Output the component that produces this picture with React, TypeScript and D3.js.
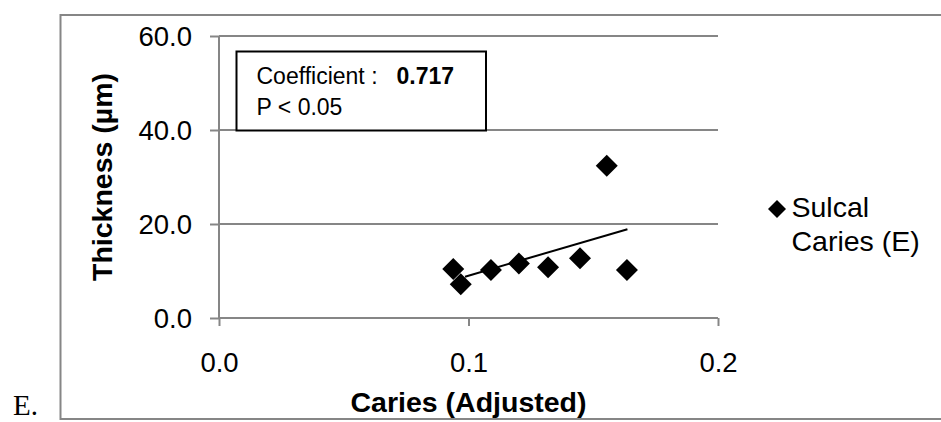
import * as d3 from "d3"
import React, { useRef, useEffect } from "react"

// values
const cariesX = [0.0939, 0.0969, 0.109, 0.1202, 0.1319, 0.1447, 0.1554, 0.1635]
const thicknessY = [10.4, 7.2, 10.2, 11.6, 10.8, 12.7, 32.4, 10.2]
const trendX = [0.0986, 0.1637]
const xTicks = [0, 0.1, 0.2]
const yTicks = [0, 20, 40, 60]
const seriesName = ["Sulcal", "Caries (E)"]
const boxLines = ["Coefficient :", "0.717", "P < 0.05"]

const FONT = "'Liberation Sans', Arial, sans-serif"
const GRAY = "#868686"

function App() {
  const svgRef = useRef<SVGSVGElement>(null)

  useEffect(() => {
    const svg = d3.select(svgRef.current)
    svg.selectAll("*").remove()

    const width = 941,
      height = 422

    const x = d3.scaleLinear().domain([0, 0.2]).range([219, 718])
    const y = d3.scaleLinear().domain([0, 60]).range([318, 36])

    // outer frame
    svg
      .append("rect")
      .attr("x", 60.5)
      .attr("y", 15)
      .attr("width", 920)
      .attr("height", 404)
      .attr("fill", "white")
      .attr("stroke", GRAY)
      .attr("stroke-width", 2)

    // gridlines
    svg
      .append("g")
      .selectAll("line")
      .data(yTicks.filter((d) => d > 0))
      .enter()
      .append("line")
      .attr("x1", x(0))
      .attr("x2", x(0.2))
      .attr("y1", (d) => y(d))
      .attr("y2", (d) => y(d))
      .attr("stroke", GRAY)
      .attr("stroke-width", 2)

    // y axis
    const yAxis = d3
      .axisLeft(y)
      .tickValues(yTicks)
      .tickSize(9)
      .tickPadding(18)
      .tickFormat(d3.format(".1f"))
    const gy = svg.append("g").attr("transform", `translate(${x(0)},0)`).call(yAxis)
    gy.select(".domain").attr("stroke", GRAY).attr("stroke-width", 2).attr("d", `M0,${y(60)}V${y(0)}`)
    gy.selectAll(".tick line").attr("stroke", GRAY).attr("stroke-width", 2)
    gy.selectAll(".tick text")
      .attr("font-family", FONT)
      .attr("font-size", 27.5)
      .attr("fill", "black")
      .attr("dy", "0.36em")

    // x axis
    const xAxis = d3
      .axisBottom(x)
      .tickValues(xTicks)
      .tickSize(8)
      .tickPadding(28)
      .tickFormat(d3.format(".1f"))
    const gx = svg.append("g").attr("transform", `translate(0,${y(0)})`).call(xAxis)
    gx.select(".domain").attr("stroke", GRAY).attr("stroke-width", 2).attr("d", `M${x(0)},0H${x(0.2)}`)
    gx.selectAll(".tick line").attr("stroke", GRAY).attr("stroke-width", 2)
    gx.selectAll(".tick text")
      .attr("font-family", FONT)
      .attr("font-size", 27.5)
      .attr("fill", "black")
      .attr("dy", 0)
      .attr("y", 54)

    // axis titles
    svg
      .append("text")
      .attr("x", (x(0) + x(0.2)) / 2)
      .attr("y", 411.5)
      .attr("text-anchor", "middle")
      .attr("font-family", FONT)
      .attr("font-weight", "bold")
      .attr("font-size", 28.5)
      .text("Caries (Adjusted)")

    svg
      .append("text")
      .attr("transform", `translate(111.5,${(y(0) + y(60)) / 2}) rotate(-90)`)
      .attr("text-anchor", "middle")
      .attr("font-family", FONT)
      .attr("font-weight", "bold")
      .attr("font-size", 28.5)
      .text("Thickness (µm)")

    // linear trendline from the points
    const mx = d3.mean(cariesX),
      my = d3.mean(thicknessY)
    const sxy = d3.sum(cariesX, (v, i) => (v - mx) * (thicknessY[i] - my))
    const sxx = d3.sum(cariesX, (v) => (v - mx) * (v - mx))
    const slope = sxy / sxx
    const icpt = my - slope * mx
    svg
      .append("path")
      .attr(
        "d",
        d3
          .line<number>()
          .x((d) => x(d))
          .y((d) => y(icpt + slope * d))(trendX)
      )
      .attr("stroke", "black")
      .attr("stroke-width", 2)
      .attr("fill", "none")

    // diamonds
    const diamond = (r: number) => `M0,${-r}L${r},0L0,${r}L${-r},0Z`
    svg
      .append("g")
      .selectAll("path")
      .data(cariesX)
      .enter()
      .append("path")
      .attr("d", diamond(11))
      .attr("transform", (d, i) => `translate(${x(d)},${y(thicknessY[i])})`)
      .attr("fill", "black")

    // coefficient box
    svg
      .append("rect")
      .attr("x", 236.5)
      .attr("y", 51.5)
      .attr("width", 249.5)
      .attr("height", 79)
      .attr("fill", "white")
      .attr("stroke", "black")
      .attr("stroke-width", 2)
    svg
      .append("text")
      .attr("x", 256.5)
      .attr("y", 83.5)
      .attr("font-family", FONT)
      .attr("font-size", 23)
      .text(boxLines[0])
    svg
      .append("text")
      .attr("x", 396.5)
      .attr("y", 83.5)
      .attr("font-family", FONT)
      .attr("font-weight", "bold")
      .attr("font-size", 23)
      .text(boxLines[1])
    svg
      .append("text")
      .attr("x", 256.5)
      .attr("y", 115)
      .attr("font-family", FONT)
      .attr("font-size", 23)
      .text(boxLines[2])

    // legend
    svg
      .append("path")
      .attr("d", diamond(9))
      .attr("transform", "translate(777,209)")
      .attr("fill", "black")
    svg
      .append("text")
      .attr("font-family", FONT)
      .attr("font-size", 28.5)
      .selectAll("tspan")
      .data(seriesName)
      .enter()
      .append("tspan")
      .attr("x", 791.5)
      .attr("y", (d, i) => 217 + i * 34)
      .text((d) => d)

    // panel letter
    svg
      .append("text")
      .attr("x", 13)
      .attr("y", 415)
      .attr("font-family", "'Liberation Serif', 'Times New Roman', serif")
      .attr("font-size", 29)
      .text("E.")

    svg.attr("width", width).attr("height", height)
  }, [])

  return (
    <svg
      ref={svgRef}
      width={941}
      height={422}
      style={{ position: "absolute", left: 0, top: 0, background: "white" }}
    ></svg>
  )
}

export default App
